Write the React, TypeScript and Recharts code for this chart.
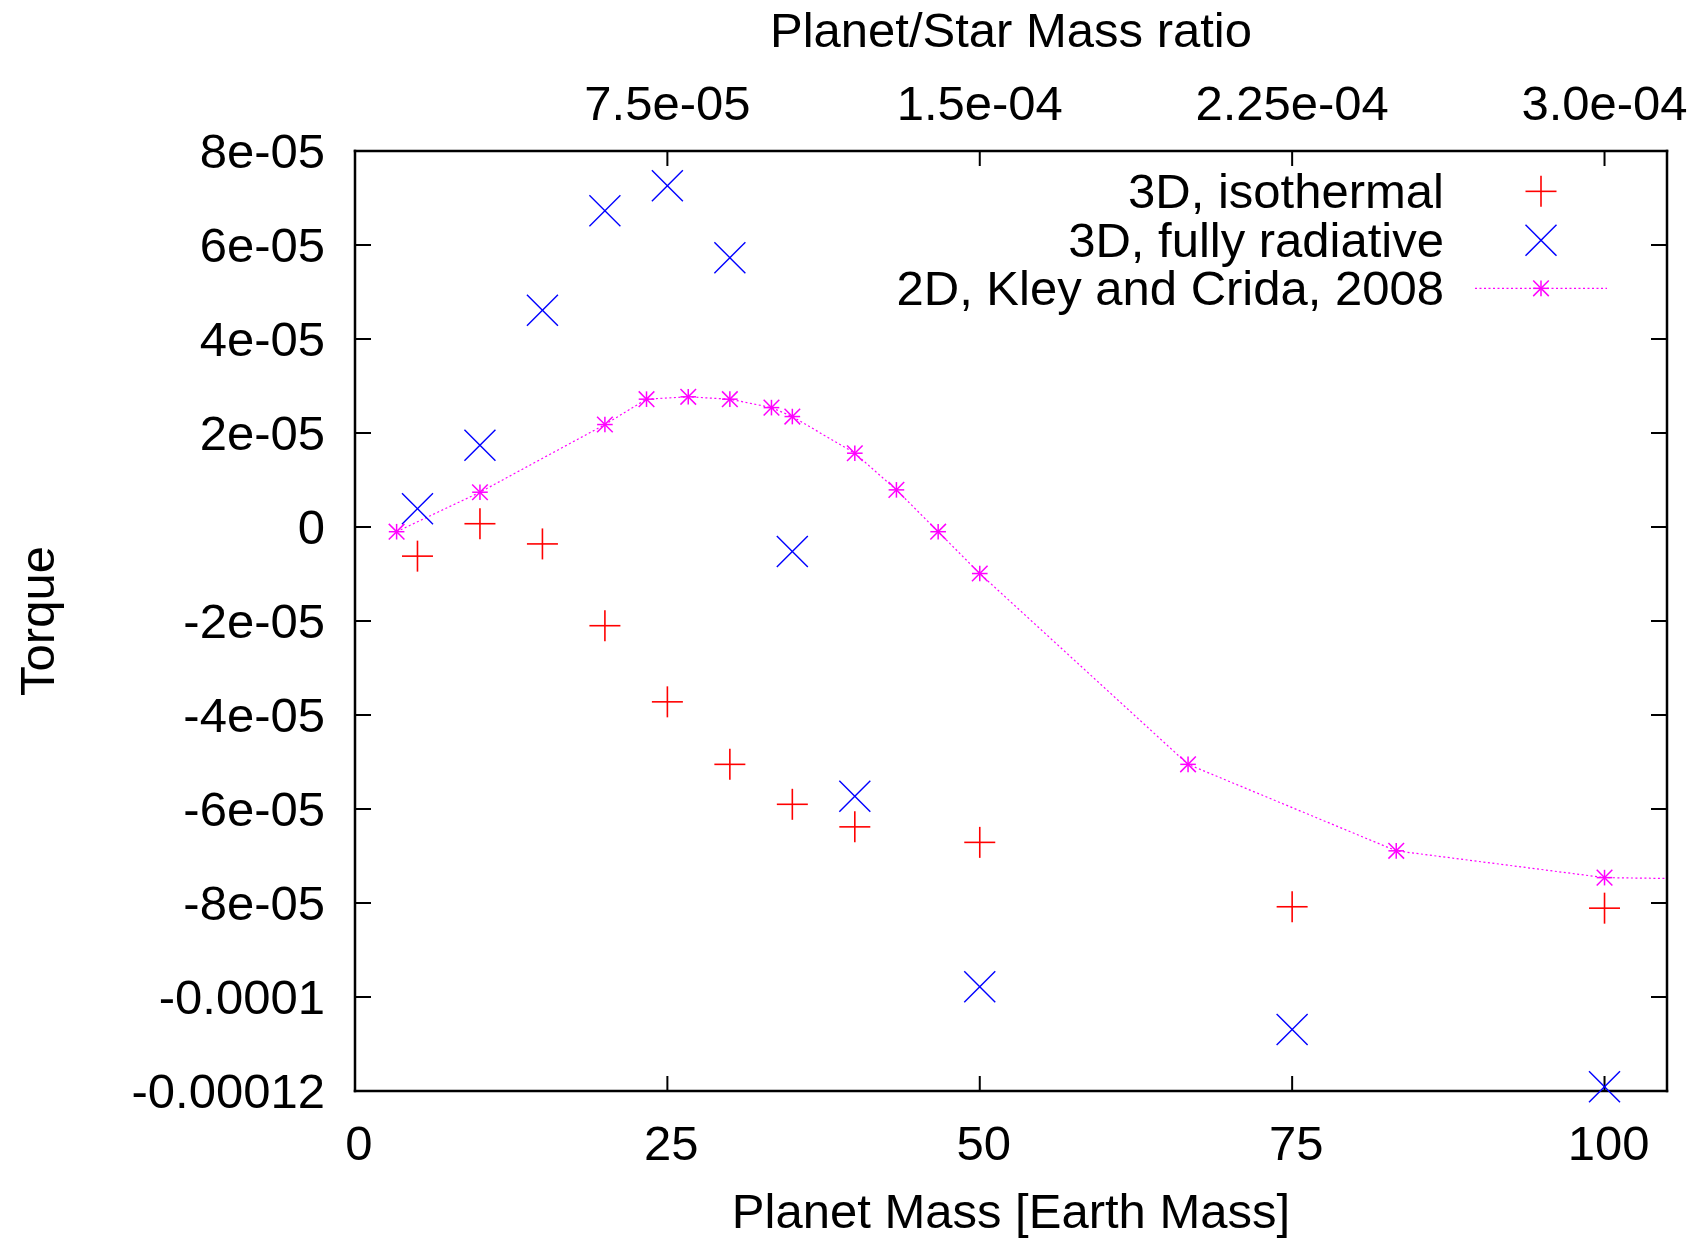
import React from 'react';
import {
  ComposedChart,
  Scatter,
  Line,
  XAxis,
  YAxis,
  Legend,
} from 'recharts';

// ---------- data ----------
const isoMass = [5, 10, 15, 20, 25, 30, 35, 40, 50, 75, 100];
const isoTorque = [-6.2e-6, 0.7e-6, -3.6e-6, -2.1e-5, -3.72e-5, -5.05e-5, -5.9e-5, -6.38e-5, -6.71e-5, -8.08e-5, -8.11e-5];

const radMass = [5, 10, 15, 20, 25, 30, 35, 40, 50, 75, 100];
const radTorque = [3.9e-6, 1.74e-5, 4.61e-5, 6.73e-5, 7.26e-5, 5.73e-5, -5.2e-6, -5.73e-5, -9.78e-5, -1.069e-4, -1.191e-4];

const kleyMass = [3.33, 10, 20, 23.33, 26.67, 30, 33.33, 35, 40, 43.33, 46.67, 50, 66.67, 83.33, 100, 116.67];
const kleyTorque = [-1.0e-6, 7.4e-6, 2.18e-5, 2.72e-5, 2.77e-5, 2.72e-5, 2.54e-5, 2.35e-5, 1.57e-5, 7.9e-6, -1.0e-6, -9.9e-6, -5.05e-5, -6.89e-5, -7.46e-5, -7.52e-5];

const massTicks = [0, 25, 50, 75, 100];
const ratioTicks = [7.5e-5, 1.5e-4, 2.25e-4, 3.0e-4];
const ratioTickLabels = ['7.5e-05', '1.5e-04', '2.25e-04', '3.0e-04'];
const torqueTicks = [-1.2e-4, -1.0e-4, -8e-5, -6e-5, -4e-5, -2e-5, 0, 2e-5, 4e-5, 6e-5, 8e-5];
const torqueTickLabels = ['-0.00012', '-0.0001', '-8e-05', '-6e-05', '-4e-05', '-2e-05', '0', '2e-05', '4e-05', '6e-05', '8e-05'];

const massDomain = [0, 105];
const ratioPerMass = 3e-6; // planet/star mass ratio per Earth mass
const torqueDomain = [-1.2e-4, 8e-5];

const seriesNames = ['3D, isothermal', '3D, fully radiative', '2D, Kley and Crida, 2008'];
const seriesColors = ['#ff0000', '#0000ff', '#ff00ff'];

const xTitle = 'Planet Mass [Earth Mass]';
const x2Title = 'Planet/Star Mass ratio';
const yTitle = 'Torque';

const isoData = isoMass.map((m, i) => ({ mass: m, torque: isoTorque[i] }));
const radData = radMass.map((m, i) => ({ mass: m, torque: radTorque[i] }));
const kleyData = kleyMass.map((m, i) => ({ mass: m, torque: kleyTorque[i] }));
// top axis ticks expressed in mass units (ratio / ratioPerMass)
const ratioTicksInMass = ratioTicks.map((r) => Math.round((r / ratioPerMass) * 1000) / 1000);

const FONT = '"Liberation Sans", Arial, Helvetica, sans-serif';
const FS = 49;

// ---------- markers ----------
const PlusMark = ({ cx, cy, r = 15.5, color }: any) => (
  <g stroke={color} strokeWidth={1.6} fill="none">
    <line x1={cx - r} y1={cy} x2={cx + r} y2={cy} />
    <line x1={cx} y1={cy - r} x2={cx} y2={cy + r} />
  </g>
);

const CrossMark = ({ cx, cy, r = 15.5, color }: any) => (
  <g stroke={color} strokeWidth={1.4} fill="none">
    <line x1={cx - r} y1={cy - r} x2={cx + r} y2={cy + r} />
    <line x1={cx - r} y1={cy + r} x2={cx + r} y2={cy - r} />
  </g>
);

const StarMark = ({ cx, cy, r = 7.8, color }: any) => (
  <g stroke={color} strokeWidth={1.5} fill="none">
    <line x1={cx - r} y1={cy} x2={cx + r} y2={cy} />
    <line x1={cx} y1={cy - r} x2={cx} y2={cy + r} />
    <line x1={cx - r} y1={cy - r} x2={cx + r} y2={cy + r} />
    <line x1={cx - r} y1={cy + r} x2={cx + r} y2={cy - r} />
  </g>
);

const tickStyle = { fill: '#000', fontSize: FS, fontFamily: FONT };
const xTickStyle = { fill: '#000', fontSize: FS, fontFamily: FONT, dx: 4 };
const axisLineStyle = { stroke: '#000', strokeWidth: 2.5, strokeLinecap: 'square' as const };
const tickLineStyle = { stroke: '#000', strokeWidth: 2 };

const renderLegend = () => (
  <div style={{ fontFamily: FONT, fontSize: FS, color: '#000' }}>
    {seriesNames.map((name, i) => (
      <div key={name} style={{ display: 'flex', alignItems: 'center', height: 48.7 }}>
        <span style={{ width: 644, textAlign: 'right', lineHeight: '48.7px', whiteSpace: 'nowrap' }}>{name}</span>
        <svg width={170} height={48.7} style={{ display: 'block', overflow: 'visible' }}>
          {i === 0 && <PlusMark cx={97} cy={24.35} color={seriesColors[0]} />}
          {i === 1 && <CrossMark cx={97} cy={24.35} color={seriesColors[1]} />}
          {i === 2 && (
            <g>
              <line x1={31} y1={24.35} x2={163} y2={24.35} stroke={seriesColors[2]} strokeWidth={1.2} strokeDasharray="2 2.5" />
              <StarMark cx={97} cy={24.35} color={seriesColors[2]} />
            </g>
          )}
        </svg>
      </div>
    ))}
  </div>
);

export default function App() {
  return (
    <div style={{ position: 'absolute', left: 0, top: 0, background: '#fff' }}>
      <ComposedChart width={1697} height={1238} margin={{ top: 0, right: 0, bottom: 0, left: 0 }}>
        <XAxis
          xAxisId="bottom"
          orientation="bottom"
          type="number"
          dataKey="mass"
          domain={massDomain}
          ticks={massTicks}
          interval={0}
          height={147}
          tick={xTickStyle}
          tickSize={-15}
          tickMargin={49}
          tickLine={tickLineStyle}
          axisLine={axisLineStyle}
          label={{
            content: (p: any) => {
              const vb = p.viewBox;
              return (
                <text x={vb.x + vb.width / 2} y={vb.y + 137} textAnchor="middle" fontFamily={FONT} fontSize={FS} fill="#000">
                  {xTitle}
                </text>
              );
            },
          }}
        />
        <XAxis
          xAxisId="top"
          orientation="top"
          type="number"
          dataKey="mass"
          domain={massDomain}
          allowDataOverflow
          ticks={ratioTicksInMass}
          interval={0}
          height={151}
          tick={tickStyle}
          tickSize={-15}
          tickMargin={46}
          tickLine={tickLineStyle}
          axisLine={axisLineStyle}
          tickFormatter={(v: number, i: number) => ratioTickLabels[i]}
          label={{
            content: (p: any) => {
              const vb = p.viewBox;
              return (
                <text x={vb.x + vb.width / 2} y={47} textAnchor="middle" fontFamily={FONT} fontSize={FS} fill="#000">
                  {x2Title}
                </text>
              );
            },
          }}
        />
        <XAxis xAxisId="kley" type="number" dataKey="mass" domain={massDomain} allowDataOverflow hide />
        <YAxis
          yAxisId="left"
          orientation="left"
          type="number"
          dataKey="torque"
          domain={torqueDomain}
          ticks={torqueTicks}
          interval={0}
          width={355}
          tick={tickStyle}
          tickSize={-16}
          tickMargin={46}
          tickLine={tickLineStyle}
          axisLine={axisLineStyle}
          tickFormatter={(v: number, i: number) => torqueTickLabels[i]}
          label={{
            content: (p: any) => {
              const vb = p.viewBox;
              const cy = vb.y + vb.height / 2;
              return (
                <text x={54} y={cy} transform={`rotate(-90 54 ${cy})`} textAnchor="middle" fontFamily={FONT} fontSize={FS} fill="#000">
                  {yTitle}
                </text>
              );
            },
          }}
        />
        <YAxis
          yAxisId="right"
          orientation="right"
          type="number"
          domain={torqueDomain}
          allowDataOverflow
          ticks={torqueTicks}
          interval={0}
          width={30}
          tick={tickStyle}
          tickSize={-16}
          tickLine={tickLineStyle}
          axisLine={axisLineStyle}
          tickFormatter={() => ''}
        />
        <Legend
          layout="vertical"
          align="center"
          verticalAlign="middle"
          content={renderLegend}
          wrapperStyle={{ position: 'absolute', left: 800, top: 167, width: 820 }}
        />
        <Scatter
          name={seriesNames[0]}
          data={isoData}
          dataKey="torque"
          xAxisId="bottom"
          yAxisId="left"
          isAnimationActive={false}
          shape={(p: any) => <PlusMark cx={p.cx} cy={p.cy} color={seriesColors[0]} />}
        />
        <Scatter
          name={seriesNames[1]}
          data={radData}
          dataKey="torque"
          xAxisId="bottom"
          yAxisId="left"
          isAnimationActive={false}
          shape={(p: any) => <CrossMark cx={p.cx} cy={p.cy} color={seriesColors[1]} />}
        />
        <Line
          name={seriesNames[2]}
          data={kleyData}
          dataKey="torque"
          xAxisId="kley"
          yAxisId="left"
          type="linear"
          stroke={seriesColors[2]}
          strokeWidth={1.2}
          strokeDasharray="2 2.5"
          isAnimationActive={false}
          activeDot={false}
          dot={(p: any) => <StarMark key={`s${p.index}`} cx={p.cx} cy={p.cy} color={seriesColors[2]} />}
        />
      </ComposedChart>
    </div>
  );
}
